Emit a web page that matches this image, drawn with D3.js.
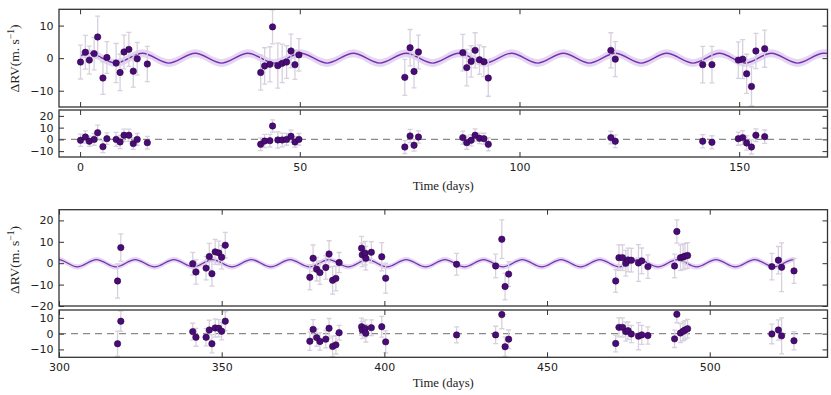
<!DOCTYPE html>
<html>
<head>
<meta charset="utf-8">
<title>RV fit and residuals</title>
<script src="https://d3js.org/d3.v7.min.js"></script>
<style>
  body { margin: 0; background: #fff; }
  .tick text { font-family: "DejaVu Sans", sans-serif; font-size: 11px; fill: #222; }
  .tick line { stroke: #333; }
  .lbl { font-family: "Liberation Serif", "DejaVu Serif", serif; fill: #222; }
</style>
</head>
<body>
<div id="chart"></div>
<script>
// ---- values ----

// first season: time (days), RV (m/s), error, residual
const time1 = [0.1, 1.2, 2.1, 3.2, 4.0, 5.2, 6.1, 8.2, 9.1, 10.0, 11.1, 12.1, 13.0, 15.3,
  41.1, 42.0, 43.2, 43.8, 45.0, 46.0, 47.0, 48.0, 48.9, 49.8,
  73.9, 75.1, 76.0, 77.0,
  87.1, 88.0, 89.0, 89.9, 90.9, 91.9, 92.9,
  120.8, 121.8, 141.7, 143.8, 149.8, 150.8, 151.7, 152.8, 153.8, 155.8];
const rv1 = [-1.2, 1.8, -0.6, 1.4, 6.5, -6.1, 0.2, -1.5, -4.4, 1.9, 2.7, -4.0, -0.2, -1.8,
  -4.4, -2.4, -1.9, 9.6, -2.3, -1.6, -1.2, 2.2, -2.0, 1.0,
  -5.9, 3.2, -4.1, 1.9,
  1.7, -2.9, -1.0, 2.4, -0.5, -1.1, -6.1,
  2.4, -0.3, -2.0, -2.0, -0.6, -0.3, -4.8, -8.7, 2.2, 2.9];
const err1 = [5.2, 5.2, 4.3, 5.0, 6.4, 5.0, 4.9, 6.0, 5.6, 5.2, 5.2, 4.9, 5.0, 5.4,
  5.4, 5.6, 5.4, 5.2, 6.9, 5.9, 5.0, 5.2, 4.5, 5.0,
  5.5, 5.6, 5.0, 5.2,
  5.6, 5.6, 4.8, 5.4, 4.5, 4.6, 5.6,
  5.4, 5.4, 5.6, 5.6, 5.6, 6.0, 6.0, 6.0, 5.4, 5.7];
const res1 = [-0.8, 2.0, -1.6, 0.0, 5.7, -6.2, 0.6, 0.0, -2.2, 3.5, 3.5, -3.6, 0.0, -2.8,
  -4.2, -1.4, -1.1, 11.4, -0.5, -0.5, 0.0, 2.6, -2.2, 0.0,
  -6.5, 2.9, -5.0, 2.0,
  1.5, -2.8, -0.8, 3.5, 0.9, 0.6, -4.2,
  1.5, -1.6, -1.6, -2.5, 0.6, 1.5, -3.1, -6.5, 3.5, 2.3];

// model curve of first season: times of maxima / minima, amplitude, ends
const peaks1 = [2.0, 14.2, 26.2, 38.2, 50.2, 62.2, 74.2, 86.2, 98.2, 110.0, 121.8, 133.5, 145.5, 157.3, 169.2];
const troughs1 = [8.1, 20.2, 32.2, 44.2, 56.2, 68.2, 80.2, 92.2, 104.1, 115.9, 127.7, 139.5, 151.4, 163.3];
const amp1 = 1.5;
const ends1 = [[0, 0.7], [170.1, 1.45]];

// second season
const time2 = [318.0, 319.0, 341.1, 342.1, 345.2, 346.2, 347.0, 348.0, 349.1, 350.0, 351.1,
  377.1, 378.1, 379.2, 380.2, 382.0, 383.0, 384.1, 385.1, 386.1,
  393.0, 393.2, 394.1, 394.3, 396.0, 399.2, 400.4,
  422.2, 434.2, 436.1, 437.1, 438.2,
  471.1, 472.1, 473.2, 474.2, 474.9, 475.9, 478.1, 479.1, 481.0,
  489.2, 489.9, 491.0, 491.8, 492.4, 493.2,
  519.1, 521.1, 522.1, 525.9];
const rv2 = [-8.3, 7.3, -0.2, -4.1, -2.3, 3.1, -4.9, 5.3, 4.8, 2.8, 8.4,
  -6.6, 2.3, -2.8, -4.4, -2.0, 4.3, -8.0, -7.1, 0.3,
  7.0, 3.9, 4.7, 2.3, 5.1, 3.0, -7.0,
  -0.5, -1.3, 11.2, -10.9, -5.1,
  -8.3, 2.6, 2.6, 0.0, 1.5, 1.4, 0.1, 1.1, -1.6,
  -1.3, 14.8, 2.6, 2.9, 3.3, 3.6,
  -1.6, 1.4, -1.9, -3.6];
const err2 = [8.0, 6.4, 5.3, 5.7, 5.5, 6.2, 5.8, 5.8, 5.5, 5.5, 6.0,
  5.8, 6.2, 5.5, 5.5, 5.5, 6.2, 6.5, 5.8, 4.7,
  5.5, 5.5, 5.5, 5.5, 5.0, 6.6, 7.0,
  5.1, 5.5, 9.0, 6.2, 5.8,
  5.3, 6.0, 6.0, 6.0, 5.5, 5.5, 8.6, 6.0, 5.5,
  5.5, 5.4, 6.0, 6.0, 6.0, 6.0,
  6.2, 6.4, 11.4, 5.8];
const res2 = [-6.4, 7.9, 1.3, -2.3, -2.3, 2.3, -6.4, 3.6, 3.4, 1.5, 7.9,
  -4.8, 2.7, -2.5, -5.0, -3.5, 3.4, -8.1, -7.1, 0.6,
  4.4, 2.3, 3.3, 0.2, 3.8, 4.4, -5.2,
  -0.8, -0.8, 12.1, -8.3, -3.5,
  -6.2, 4.0, 4.0, 1.3, 1.9, -0.2, -1.6, -0.8, -1.2,
  -3.3, 12.3, 0.4, 1.5, 2.3, 3.1,
  -0.2, 2.3, -1.4, -4.5];

const peaks2 = [299.6, 311.5, 323.4, 335.3, 347.2, 359.1, 371.0, 382.9, 394.8, 406.7,
  418.6, 430.5, 442.4, 454.3, 466.2, 478.1, 490.0, 501.9, 513.8, 525.7];
const troughs2 = [305.6, 317.5, 329.4, 341.3, 353.2, 365.1, 377.0, 388.9, 400.8, 412.7,
  424.6, 436.5, 448.4, 460.3, 472.2, 484.1, 496.0, 507.9, 519.8];
const amp2 = 1.7;
const ends2 = [[300, 1.68], [526, 1.69]];

const modelBand = 1.2;   // half width of shaded model band

// axis ticks
const xTicks1 = [0, 50, 100, 150];
const xTicks2 = [300, 350, 400, 450, 500];
const yMainTicks1 = [-10, 0, 10];
const yResTicks1 = [-10, 0, 10, 20];
const yMainTicks2 = [-20, -10, 0, 10, 20];
const yResTicks2 = [-10, 0, 10];

// ---- drawing ----
const W = 831, H = 395;
const left = 59, right = 827.5;

const svg = d3.select("#chart").append("svg")
  .attr("width", W).attr("height", H);

const cPurple = "#4a0b78", cLine = "#7531b0", cBand = "#e5d6f3", cErr = "#d7d0de";

function modelPoints(peaks, troughs, amp, ends) {
  const pts = peaks.map(t => [t, amp]).concat(troughs.map(t => [t, -amp]), ends);
  return pts.sort((a, b) => a[0] - b[0]);
}

let clipId = 0;
function panel(x, y, top, bottom, yTicks, showX, xTicks) {
  const g = svg.append("g");
  const id = "clip" + (clipId++);
  g.append("clipPath").attr("id", id).append("rect")
    .attr("x", left).attr("y", top).attr("width", right - left).attr("height", bottom - top);
  const inner = g.append("g").attr("clip-path", `url(#${id})`);

  const axes = g.append("g");
  axes.append("g").attr("transform", `translate(${left},0)`)
    .call(d3.axisLeft(y).tickValues(yTicks).tickSize(-5).tickPadding(5.5));
  axes.append("g").attr("transform", `translate(${right},0)`)
    .call(d3.axisRight(y).tickValues(yTicks).tickSize(-5).tickFormat(""));
  axes.append("g").attr("transform", `translate(0,${top})`)
    .call(d3.axisTop(x).tickValues(xTicks).tickSize(-5).tickFormat(""));
  const xb = d3.axisBottom(x).tickValues(xTicks).tickSize(-5).tickPadding(6);
  if (!showX) xb.tickFormat("");
  axes.append("g").attr("transform", `translate(0,${bottom})`).call(xb);
  axes.selectAll(".domain").remove();
  axes.selectAll(".tick line").attr("stroke-width", 1);

  g.append("rect")
    .attr("x", left).attr("y", top).attr("width", right - left).attr("height", bottom - top)
    .attr("fill", "none").attr("stroke", "#333").attr("stroke-width", 1.3);
  return inner;
}

function points(g, x, y, t, v, e) {
  const data = t.map((d, i) => ({ t: d, v: v[i], e: e[i] }));
  const eb = g.append("g").attr("stroke", cErr).attr("stroke-width", 1.3).attr("fill", "none");
  eb.selectAll("line.bar").data(data).join("line").attr("class", "bar")
    .attr("x1", d => x(d.t)).attr("x2", d => x(d.t))
    .attr("y1", d => y(d.v - d.e)).attr("y2", d => y(d.v + d.e));
  eb.selectAll("line.capt").data(data).join("line").attr("class", "capt")
    .attr("x1", d => x(d.t) - 2.5).attr("x2", d => x(d.t) + 2.5)
    .attr("y1", d => y(d.v + d.e)).attr("y2", d => y(d.v + d.e));
  eb.selectAll("line.capb").data(data).join("line").attr("class", "capb")
    .attr("x1", d => x(d.t) - 2.5).attr("x2", d => x(d.t) + 2.5)
    .attr("y1", d => y(d.v - d.e)).attr("y2", d => y(d.v - d.e));
  g.append("g").selectAll("circle").data(data).join("circle")
    .attr("cx", d => x(d.t)).attr("cy", d => y(d.v)).attr("r", 3.2)
    .attr("fill", cPurple).attr("stroke", "#2a0845").attr("stroke-width", 0.6);
}

function figure(cfg) {
  const x = d3.scaleLinear().domain(cfg.xDomain).range([left, right]);
  const yM = d3.scaleLinear().domain(cfg.yMain).range([cfg.mainBox[1], cfg.mainBox[0]]);
  const yR = d3.scaleLinear().domain(cfg.yRes).range([cfg.resBox[1], cfg.resBox[0]]);

  // main panel: model + data
  const gm = panel(x, yM, cfg.mainBox[0], cfg.mainBox[1], cfg.yMainTicks, false, cfg.xTicks);
  const model = modelPoints(cfg.peaks, cfg.troughs, cfg.amp, cfg.ends);
  gm.append("path").datum(model)
    .attr("fill", cBand)
    .attr("d", d3.area().curve(d3.curveMonotoneX)
      .x(d => x(d[0])).y0(d => yM(d[1] - modelBand)).y1(d => yM(d[1] + modelBand)));
  gm.append("path").datum(model)
    .attr("fill", "none").attr("stroke", cLine).attr("stroke-width", 1.3)
    .attr("d", d3.line().curve(d3.curveMonotoneX).x(d => x(d[0])).y(d => yM(d[1])));
  points(gm, x, yM, cfg.t, cfg.rv, cfg.err);

  // residual panel
  const gr = panel(x, yR, cfg.resBox[0], cfg.resBox[1], cfg.yResTicks, true, cfg.xTicks);
  gr.append("line")
    .attr("x1", left).attr("x2", right).attr("y1", yR(0)).attr("y2", yR(0))
    .attr("stroke", "#8a8a8a").attr("stroke-width", 1.2).attr("stroke-dasharray", "7,5");
  points(gr, x, yR, cfg.t, cfg.res, cfg.err);

  // labels
  svg.append("text").attr("class", "lbl")
    .attr("x", (left + right) / 2).attr("y", cfg.xLabelY)
    .attr("text-anchor", "middle").style("font-size", "12.7px")
    .text("Time (days)");
  const yl = svg.append("text").attr("class", "lbl")
    .attr("transform", `translate(18.5,${cfg.yLabelY}) rotate(-90)`)
    .attr("text-anchor", "middle").style("font-size", "13.5px");
  yl.append("tspan").text("ΔRV(m. s");
  yl.append("tspan").attr("dy", -5).style("font-size", "9.5px").text("−1");
  yl.append("tspan").attr("dy", 5).text(")");
}

figure({
  xDomain: [-4.8, 170.1], yMain: [-15, 15], yRes: [-15, 25],
  mainBox: [9.3, 107], resBox: [110, 157],
  xTicks: xTicks1, yMainTicks: yMainTicks1, yResTicks: yResTicks1,
  t: time1, rv: rv1, err: err1, res: res1,
  peaks: peaks1, troughs: troughs1, amp: amp1, ends: ends1,
  xLabelY: 189.5, yLabelY: 58.5
});

figure({
  xDomain: [300, 536.2], yMain: [-20, 25], yRes: [-15, 15],
  mainBox: [209.7, 306], resBox: [310, 357.3],
  xTicks: xTicks2, yMainTicks: yMainTicks2, yResTicks: yResTicks2,
  t: time2, rv: rv2, err: err2, res: res2,
  peaks: peaks2, troughs: troughs2, amp: amp2, ends: ends2,
  xLabelY: 387, yLabelY: 260
});
</script>
</body>
</html>
